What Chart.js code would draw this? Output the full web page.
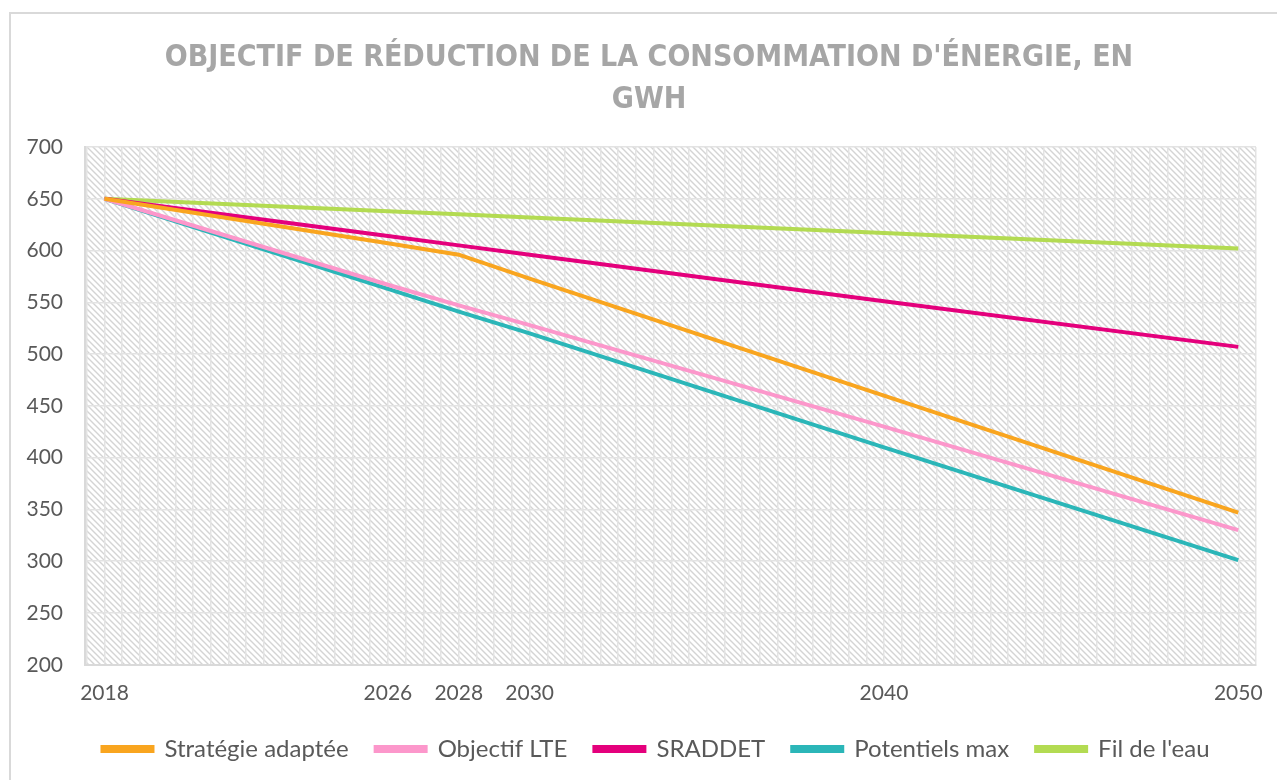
<!DOCTYPE html>
<html>
<head>
<meta charset="utf-8">
<script src="https://cdn.jsdelivr.net/npm/chart.js@4"></script>
<style>
  body { margin: 0; background: #fff; }
  #wrap { width: 1277px; height: 780px; }
</style>
</head>
<body>
<div id="wrap"><canvas id="myChart" width="1277" height="780"></canvas></div>
<script>
// years of the data points
const years = [2018, 2026, 2028, 2030, 2040, 2050];
// years that get a label on the x axis
const labelYears = [2018, 2026, 2028, 2030, 2040, 2050];

const strategie = [650, 607, 596, 573, 460, 347];
const objectifLTE = [650, 567, 547, 528, 430, 330];
const sraddet = [650, 614, 605, 596, 551, 507];
const potentiels = [650, 563, 541, 520, 410, 301];
const filDeLeau = [650, 638, 635, 632, 617, 602];

const seriesNames = ["Stratégie adaptée", "Objectif LTE", "SRADDET", "Potentiels max", "Fil de l'eau"];
const seriesColors = ["#F9A51F", "#FC97CB", "#E4007C", "#2BB6B8", "#B3DB52"];
const seriesValues = [strategie, objectifLTE, sraddet, potentiels, filDeLeau];

const titleLines = ["OBJECTIF DE RÉDUCTION DE LA CONSOMMATION D'ÉNERGIE, EN", "GWH"];

function toPoints(values) {
    return values.map((v, i) => ({ x: years[i], y: v }));
}

// hatched fill for the plot area
function makeHatch() {
    const c = document.createElement("canvas");
    c.width = 6;
    c.height = 6;
    const g = c.getContext("2d");
    g.strokeStyle = "#d4d4d4";
    g.lineWidth = 1.4;
    g.beginPath();
    g.moveTo(-1, -1); g.lineTo(7, 7);
    g.moveTo(-4, 2); g.lineTo(2, 8);
    g.moveTo(2, -4); g.lineTo(8, 2);
    g.stroke();
    return c;
}

const hatchPlugin = {
    id: "hatch",
    afterLayout(chart) {
        // nudge title and legend a bit to the right, like the original
        chart.titleBlock.left += 9;
        chart.titleBlock.right += 9;
        chart.legend.left += 16;
        chart.legend.right += 16;
    },
    beforeDraw(chart) {
        const { ctx, chartArea } = chart;
        ctx.save();
        // outer frame
        ctx.strokeStyle = "#d9d9d9";
        ctx.lineWidth = 2;
        ctx.strokeRect(10, 13, 1300, 800);
        ctx.fillStyle = ctx.createPattern(makeHatch(), "repeat");
        ctx.fillRect(chartArea.left, chartArea.top, chartArea.right - chartArea.left, chartArea.bottom - chartArea.top);
        ctx.restore();
    }
};

const ctx = document.getElementById("myChart").getContext("2d");

const chart = new Chart(ctx, {
    type: "line",
    data: {
        datasets: seriesNames.map((name, i) => ({
            label: name,
            data: toPoints(seriesValues[i]),
            borderColor: seriesColors[i],
            backgroundColor: seriesColors[i],
            borderWidth: 4,
            pointRadius: 0,
            tension: 0
        }))
    },
    options: {
        responsive: false,
        animation: false,
        layout: { padding: { top: 37, left: 24, right: 21, bottom: 9 } },
        plugins: {
            title: {
                display: true,
                text: titleLines,
                color: "#a6a6a6",
                font: { family: "'DejaVu Sans Condensed', sans-serif", size: 30, weight: "bold", lineHeight: 1.4 },
                padding: { top: 0, bottom: 26 }
            },
            legend: {
                position: "bottom",
                labels: {
                    boxWidth: 50,
                    boxHeight: 4,
                    padding: 27,
                    color: "#595959",
                    font: { family: "Lato, sans-serif", size: 24 }
                }
            },
            tooltip: { enabled: false }
        },
        scales: {
            x: {
                type: "linear",
                min: 2017.45,
                max: 2050.5,
                afterBuildTicks(axis) {
                    const t = [];
                    for (let v = 2017.5; v <= 2050.5; v += 0.5) t.push({ value: v });
                    axis.ticks = t;
                },
                afterFit(axis) { axis.height = axis.height - 12; },
                ticks: {
                    autoSkip: false,
                    maxRotation: 0,
                    padding: 16,
                    color: "#595959",
                    font: { family: "Lato, sans-serif", size: 21 },
                    callback: v => labelYears.includes(v) ? String(v) : ""
                },
                grid: { color: "#e3e3e3", lineWidth: 1.5, drawTicks: false },
                border: { color: "#d9d9d9", width: 2 }
            },
            y: {
                min: 200,
                max: 700,
                ticks: {
                    stepSize: 50,
                    padding: 22,
                    color: "#595959",
                    font: { family: "Lato, sans-serif", size: 21 }
                },
                afterFit(axis) { axis.width = 61; },
                grid: { color: "#e3e3e3", lineWidth: 1.5, drawTicks: false },
                border: { color: "#d9d9d9", width: 2 }
            }
        }
    },
    plugins: [hatchPlugin]
});
</script>
</body>
</html>
